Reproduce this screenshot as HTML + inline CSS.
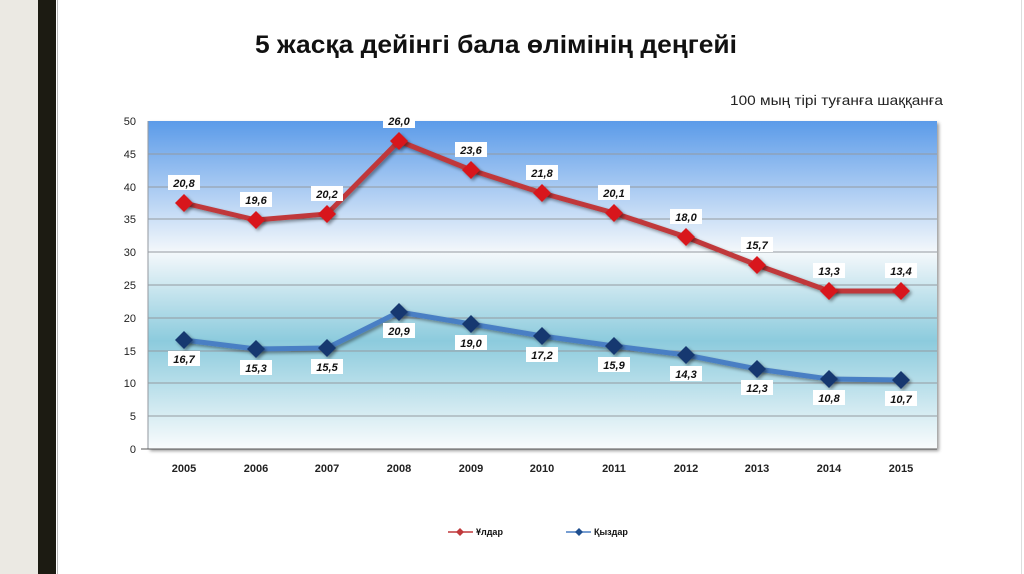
<!DOCTYPE html>
<html><head><meta charset="utf-8"><style>
body{margin:0;width:1024px;height:574px;background:#fff;position:relative;overflow:hidden;font-family:"Liberation Sans",sans-serif}
</style></head><body>
<div style="position:absolute;left:0;top:0;width:38px;height:574px;background:#ebe9e3"></div>
<div style="position:absolute;left:38px;top:0;width:18px;height:574px;background:#1c1b12"></div>
<div style="position:absolute;left:57px;top:0;width:1px;height:574px;background:#bbb"></div>
<div style="position:absolute;left:1021px;top:0;width:1px;height:574px;background:#ddd"></div>
<svg width="1024" height="574" style="position:absolute;left:0;top:0" font-family="Liberation Sans, sans-serif">
<defs>
<linearGradient id="bg" x1="0" y1="0" x2="0" y2="1">
<stop offset="0" stop-color="#5b9be9"/>
<stop offset="0.4" stop-color="#f4f8fb"/>
<stop offset="0.67" stop-color="#8ccbdd"/>
<stop offset="1" stop-color="#fafcfd"/>
</linearGradient>
<filter id="sh"><feDropShadow dx="2" dy="2" stdDeviation="1.5" flood-opacity="0.4"/></filter>
</defs>
<text x="255" y="53" font-size="25" font-weight="bold" fill="#111" textLength="482" lengthAdjust="spacingAndGlyphs">5 жасқа дейінгі бала өлімінің деңгейі</text>
<text x="730" y="105" font-size="14" fill="#222" textLength="213" lengthAdjust="spacingAndGlyphs">100  мың тірі туғанға шаққанға</text>
<rect x="148" y="121" width="789" height="328" fill="url(#bg)" filter="url(#sh)"/>
<g stroke="#949aa0" stroke-width="1">
<line x1="148" x2="937" y1="154" y2="154"/><line x1="148" x2="937" y1="187" y2="187"/>
<line x1="148" x2="937" y1="219" y2="219"/><line x1="148" x2="937" y1="252" y2="252"/>
<line x1="148" x2="937" y1="285" y2="285"/><line x1="148" x2="937" y1="318" y2="318"/>
<line x1="148" x2="937" y1="351" y2="351"/><line x1="148" x2="937" y1="383" y2="383"/>
<line x1="148" x2="937" y1="416" y2="416"/>
<line x1="148" x2="148" y1="121" y2="449"/><line x1="141" x2="937" y1="449" y2="449" stroke="#555"/>
</g>
<g font-size="11" fill="#222" text-anchor="end">
<text x="136" y="125">50</text><text x="136" y="158">45</text><text x="136" y="191">40</text>
<text x="136" y="223">35</text><text x="136" y="256">30</text><text x="136" y="289">25</text>
<text x="136" y="322">20</text><text x="136" y="355">15</text><text x="136" y="387">10</text>
<text x="136" y="420">5</text><text x="136" y="453">0</text>
</g>
<g font-size="11" font-weight="bold" fill="#222" text-anchor="middle">
<text x="184" y="472">2005</text><text x="256" y="472">2006</text><text x="327" y="472">2007</text>
<text x="399" y="472">2008</text><text x="471" y="472">2009</text><text x="542" y="472">2010</text>
<text x="614" y="472">2011</text><text x="686" y="472">2012</text><text x="757" y="472">2013</text>
<text x="829" y="472">2014</text><text x="901" y="472">2015</text>
</g>
<polyline fill="none" stroke="#c0393b" stroke-width="5" filter="url(#sh)" points="184,203 256,220 327,214 399,141 471,170 542,193 614,213 686,237 757,265 829,291 901,291"/>
<polyline fill="none" stroke="#4a7fc4" stroke-width="5" filter="url(#sh)" points="184,340 256,349 327,348 399,312 471,324 542,336 614,346 686,355 757,369 829,379 901,380"/>
<g fill="#d8161b" filter="url(#sh)">
<path d="M184,194l9,9-9,9-9-9z"/><path d="M256,211l9,9-9,9-9-9z"/><path d="M327,205l9,9-9,9-9-9z"/>
<path d="M399,132l9,9-9,9-9-9z"/><path d="M471,161l9,9-9,9-9-9z"/><path d="M542,184l9,9-9,9-9-9z"/>
<path d="M614,204l9,9-9,9-9-9z"/><path d="M686,228l9,9-9,9-9-9z"/><path d="M757,256l9,9-9,9-9-9z"/>
<path d="M829,282l9,9-9,9-9-9z"/><path d="M901,282l9,9-9,9-9-9z"/>
</g>
<g fill="#17396f" filter="url(#sh)">
<path d="M184,331l9,9-9,9-9-9z"/><path d="M256,340l9,9-9,9-9-9z"/><path d="M327,339l9,9-9,9-9-9z"/>
<path d="M399,303l9,9-9,9-9-9z"/><path d="M471,315l9,9-9,9-9-9z"/><path d="M542,327l9,9-9,9-9-9z"/>
<path d="M614,337l9,9-9,9-9-9z"/><path d="M686,346l9,9-9,9-9-9z"/><path d="M757,360l9,9-9,9-9-9z"/>
<path d="M829,370l9,9-9,9-9-9z"/><path d="M901,371l9,9-9,9-9-9z"/>
</g>
<g font-size="11" font-weight="bold" font-style="italic" fill="#111" text-anchor="middle">
<g fill="#fff"><rect x="168" y="175" width="32" height="15"/><rect x="240" y="192" width="32" height="15"/><rect x="311" y="186" width="32" height="15"/><rect x="383" y="113" width="32" height="15"/><rect x="455" y="142" width="32" height="15"/><rect x="526" y="165" width="32" height="15"/><rect x="598" y="185" width="32" height="15"/><rect x="670" y="209" width="32" height="15"/><rect x="741" y="237" width="32" height="15"/><rect x="813" y="263" width="32" height="15"/><rect x="885" y="263" width="32" height="15"/>
<rect x="168" y="351" width="32" height="15"/><rect x="240" y="360" width="32" height="15"/><rect x="311" y="359" width="32" height="15"/><rect x="383" y="323" width="32" height="15"/><rect x="455" y="335" width="32" height="15"/><rect x="526" y="347" width="32" height="15"/><rect x="598" y="357" width="32" height="15"/><rect x="670" y="366" width="32" height="15"/><rect x="741" y="380" width="32" height="15"/><rect x="813" y="390" width="32" height="15"/><rect x="885" y="391" width="32" height="15"/></g>
<text x="184" y="187">20,8</text><text x="256" y="204">19,6</text><text x="327" y="198">20,2</text><text x="399" y="125">26,0</text><text x="471" y="154">23,6</text><text x="542" y="177">21,8</text><text x="614" y="197">20,1</text><text x="686" y="221">18,0</text><text x="757" y="249">15,7</text><text x="829" y="275">13,3</text><text x="901" y="275">13,4</text>
<text x="184" y="363">16,7</text><text x="256" y="372">15,3</text><text x="327" y="371">15,5</text><text x="399" y="335">20,9</text><text x="471" y="347">19,0</text><text x="542" y="359">17,2</text><text x="614" y="369">15,9</text><text x="686" y="378">14,3</text><text x="757" y="392">12,3</text><text x="829" y="402">10,8</text><text x="901" y="403">10,7</text>
</g>
<line x1="448" x2="473" y1="532" y2="532" stroke="#c0393b" stroke-width="1.5"/>
<path d="M460,528l4,4-4,4-4-4z" fill="#c0393b"/>
<text x="476" y="535" font-size="9" font-weight="bold" fill="#111">Ұлдар</text>
<line x1="566" x2="591" y1="532" y2="532" stroke="#4a7fc4" stroke-width="1.5"/>
<path d="M579,528l4,4-4,4-4-4z" fill="#1f4f8f"/>
<text x="594" y="535" font-size="9" font-weight="bold" fill="#111">Қыздар</text>
</svg>
</body></html>
